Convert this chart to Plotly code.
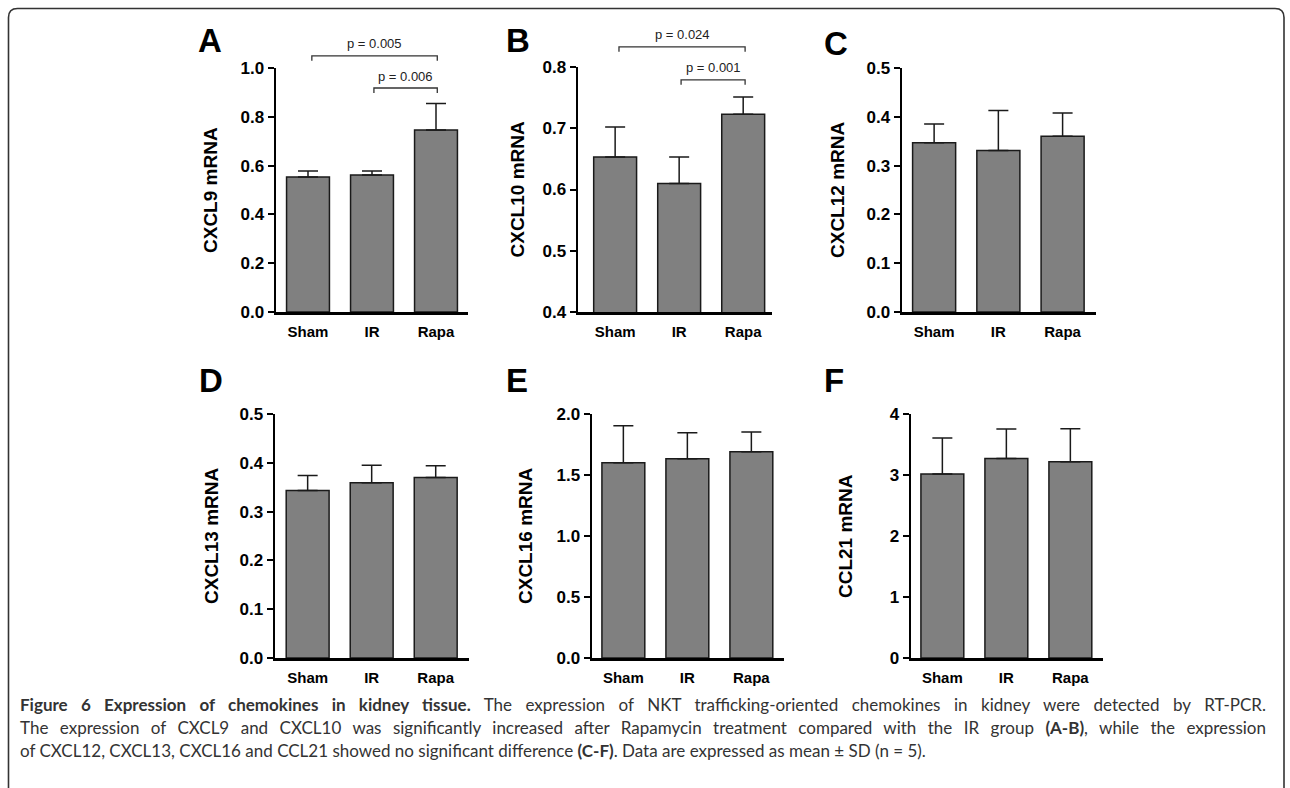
import json
import plotly.graph_objects as go

W, H = 1290, 788

# ---------------- data ----------------
categories = ["Sham", "IR", "Rapa"]

panel_letters = ["A", "B", "C", "D", "E", "F"]
y_titles = ["CXCL9 mRNA", "CXCL10 mRNA", "CXCL12 mRNA",
            "CXCL13 mRNA", "CXCL16 mRNA", "CCL21 mRNA"]

cxcl9_mean = [0.553, 0.561, 0.746]
cxcl9_sd = [0.025, 0.017, 0.108]
cxcl10_mean = [0.653, 0.610, 0.723]
cxcl10_sd = [0.049, 0.043, 0.028]
cxcl12_mean = [0.347, 0.331, 0.360]
cxcl12_sd = [0.038, 0.082, 0.048]
cxcl13_mean = [0.343, 0.359, 0.370]
cxcl13_sd = [0.031, 0.036, 0.024]
cxcl16_mean = [1.600, 1.634, 1.690]
cxcl16_sd = [0.304, 0.213, 0.162]
ccl21_mean = [3.015, 3.270, 3.217]
ccl21_sd = [0.591, 0.484, 0.542]

means = [cxcl9_mean, cxcl10_mean, cxcl12_mean, cxcl13_mean, cxcl16_mean, ccl21_mean]
sds = [cxcl9_sd, cxcl10_sd, cxcl12_sd, cxcl13_sd, cxcl16_sd, ccl21_sd]

y_ranges = [(0.0, 1.0), (0.4, 0.8), (0.0, 0.5), (0.0, 0.5), (0.0, 2.0), (0.0, 4.0)]
y_tickvals = [
    [0.0, 0.2, 0.4, 0.6, 0.8, 1.0],
    [0.4, 0.5, 0.6, 0.7, 0.8],
    [0.0, 0.1, 0.2, 0.3, 0.4, 0.5],
    [0.0, 0.1, 0.2, 0.3, 0.4, 0.5],
    [0.0, 0.5, 1.0, 1.5, 2.0],
    [0, 1, 2, 3, 4],
]
y_ticktext = [
    ["0.0", "0.2", "0.4", "0.6", "0.8", "1.0"],
    ["0.4", "0.5", "0.6", "0.7", "0.8"],
    ["0.0", "0.1", "0.2", "0.3", "0.4", "0.5"],
    ["0.0", "0.1", "0.2", "0.3", "0.4", "0.5"],
    ["0.0", "0.5", "1.0", "1.5", "2.0"],
    ["0", "1", "2", "3", "4"],
]

# significance comparisons: (panel index, group i, group j, label)
comparisons = [
    (0, 0, 2, "p = 0.005"),
    (0, 1, 2, "p = 0.006"),
    (1, 0, 2, "p = 0.024"),
    (1, 1, 2, "p = 0.001"),
]

caption_lines = [
    "<b>Figure 6 Expression of chemokines in kidney tissue.</b> The expression of NKT trafficking-oriented chemokines in kidney were detected by RT-PCR.",
    "The expression of CXCL9 and CXCL10 was significantly increased after Rapamycin treatment compared with the IR group <b>(A-B)</b>, while the expression",
    "of CXCL12, CXCL13, CXCL16 and CCL21 showed no significant difference <b>(C-F)</b>. Data are expressed as mean ± SD (n = 5).",
]

# ---------------- layout (pixel geometry) ----------------
panels = [
    dict(x0=276, x1=468, yt=68, yb=312, xr=(-0.5, 2.5), tx=210, lx=210, ly=40),
    dict(x0=578, x1=772, yt=67, yb=312, xr=(-0.58, 2.45), tx=517, lx=518, ly=41),
    dict(x0=902, x1=1096, yt=68, yb=312, xr=(-0.5, 2.52), tx=837, lx=836, ly=43),
    dict(x0=275, x1=469, yt=414, yb=658, xr=(-0.51, 2.52), tx=211, lx=211, ly=380),
    dict(x0=592, x1=784, yt=414, yb=658, xr=(-0.49, 2.51), tx=525, lx=517, ly=380),
    dict(x0=911, x1=1103, yt=414, yb=658, xr=(-0.49, 2.51), tx=845, lx=834, ly=380),
]
bracket_levels = [1.05, 0.918, 0.833, 0.779]
bracket_offsets = [(0.06, 0.02), (0.03, 0.02), (0.06, 0.03), (0.03, 0.03)]
TICK_DROP = 5
TEXT_GAP = 12

CAP_LEFT = 18
CAP_RIGHT = 1264          # right edge of the justified caption block
cap_y = [704, 727, 750]
justify = [True, True, False]

FONT = "Liberation Sans, Arial, Helvetica, sans-serif"
CAP_FONT = "Lato, Open Sans, sans-serif"
DARK = "#1a1a1a"


def fx(px):
    return px / W


def fy(py):
    return 1 - py / H


def data_to_px(k, xd, yd):
    p = panels[k]
    r0, r1 = p["xr"]
    y0, y1 = y_ranges[k]
    px = p["x0"] + (xd - r0) / (r1 - r0) * (p["x1"] - p["x0"])
    py = p["yb"] - (yd - y0) / (y1 - y0) * (p["yb"] - p["yt"])
    return px, py


fig = go.Figure()
layout = dict(
    width=W, height=H,
    margin=dict(l=0, r=0, t=0, b=0, pad=0),
    paper_bgcolor="white", plot_bgcolor="white",
    showlegend=False,
)
annotations = []
shapes = []

for k in range(6):
    p = panels[k]
    n = "" if k == 0 else str(k + 1)
    xa, ya = "x" + n, "y" + n
    fig.add_trace(go.Bar(
        x=categories, y=means[k],
        xaxis=xa, yaxis=ya,
        width=0.67,
        marker=dict(color="#808080", line=dict(color=DARK, width=1.5)),
        error_y=dict(type="data", array=sds[k], arrayminus=[0] * 3,
                     symmetric=False, color=DARK, thickness=1.5, width=10),
        hoverinfo="skip",
    ))
    layout["xaxis" + n] = dict(
        domain=[fx(p["x0"]), fx(p["x1"])],
        anchor=ya, range=list(p["xr"]), type="category",
        showline=True, linecolor="black", linewidth=2.5,
        ticks="outside", ticklen=4, tickcolor="rgba(0,0,0,0)",
        tickfont=dict(family=FONT, size=15, color="black", weight="bold"),
        showgrid=False, zeroline=False, fixedrange=True, automargin=False,
    )
    layout["yaxis" + n] = dict(
        domain=[fy(p["yb"]), fy(p["yt"])],
        anchor=xa, range=list(y_ranges[k]),
        tickvals=y_tickvals[k], ticktext=y_ticktext[k],
        showline=True, linecolor="black", linewidth=2.5,
        ticks="outside", ticklen=6, tickwidth=2, tickcolor="black",
        tickfont=dict(family=FONT, size=17, color="black", weight="bold"),
        showgrid=False, zeroline=False, fixedrange=True, automargin=False,
    )
    annotations.append(dict(
        x=fx(p["tx"]), y=fy((p["yt"] + p["yb"]) / 2), xref="paper", yref="paper",
        text=y_titles[k], textangle=-90, showarrow=False,
        font=dict(family=FONT, size=19, color="black", weight="bold"),
        xanchor="center", yanchor="middle",
    ))
    annotations.append(dict(
        x=fx(p["lx"]), y=fy(p["ly"]), xref="paper", yref="paper",
        text=panel_letters[k], showarrow=False,
        font=dict(family=FONT, size=33, color="black", weight="bold"),
        xanchor="center", yanchor="middle",
    ))

for (k, i, j, label), lvl, (oi, oj) in zip(comparisons, bracket_levels, bracket_offsets):
    xl, yl = data_to_px(k, i + oi, lvl)
    xr, _ = data_to_px(k, j + oj, lvl)
    path = "M {:.5f},{:.5f} L {:.5f},{:.5f} L {:.5f},{:.5f} L {:.5f},{:.5f}".format(
        fx(xl), fy(yl + TICK_DROP), fx(xl), fy(yl), fx(xr), fy(yl), fx(xr), fy(yl + TICK_DROP))
    shapes.append(dict(type="path", xref="paper", yref="paper", path=path,
                       line=dict(color="#333333", width=1.3)))
    annotations.append(dict(
        x=fx((xl + xr) / 2), y=fy(yl - TEXT_GAP), xref="paper", yref="paper",
        text=label, showarrow=False,
        font=dict(family=FONT, size=13, color="#222222"),
        xanchor="center", yanchor="middle",
    ))

for line, cy in zip(caption_lines, cap_y):
    annotations.append(dict(
        x=fx(CAP_LEFT), y=fy(cy), xref="paper", yref="paper",
        text=line, showarrow=False, align="left",
        font=dict(family=CAP_FONT, size=17, color="#333333"),
        xanchor="left", yanchor="middle",
    ))

L, R, T, rad = 8.5, 1284, 8.5, 9
frame = "M {},{} L {},{} Q {},{} {},{} L {},{} Q {},{} {},{} L {},{}".format(
    fx(L), fy(H + 20), fx(L), fy(T + rad), fx(L), fy(T), fx(L + rad), fy(T),
    fx(R - rad), fy(T), fx(R), fy(T), fx(R), fy(T + rad), fx(R), fy(H + 20))
shapes.append(dict(type="path", xref="paper", yref="paper", path=frame,
                   line=dict(color="#333333", width=1.6)))

layout["annotations"] = annotations
layout["shapes"] = shapes
fig.update_layout(**layout)

# plain-text starts of the caption lines that are justified (full width)
justified_starts = []
for line, j in zip(caption_lines, justify):
    if j:
        plain = line.replace("<b>", "").replace("</b>", "")
        justified_starts.append(plain[:20])

page_fix = (
    "var s=document.createElement('style');"
    "s.innerHTML='html,body{margin:0!important;padding:0!important;overflow:hidden!important;}"
    ".plotly-graph-div{position:fixed!important;top:0!important;left:0!important;}';"
    "document.head.appendChild(s);"
    "var starts=" + json.dumps(justified_starts) + ";"
    "var target=" + str(CAP_RIGHT - CAP_LEFT) + ";"
    "document.querySelectorAll('text.annotation-text').forEach(function(t){"
    "  var txt=t.textContent||'';"
    "  for(var i=0;i<starts.length;i++){"
    "    if(txt.indexOf(starts[i])===0){"
    "      var w=t.getBBox().width;"
    "      var n=(txt.match(/ /g)||[]).length;"
    "      if(n>0&&w>0&&w<target){t.style.wordSpacing=((target-w)/n)+'px';}"
    "    }"
    "  }"
    "});"
)

fig.write_html(
    "out.html",
    config={"displayModeBar": False, "staticPlot": True},
    post_script=page_fix,
)
